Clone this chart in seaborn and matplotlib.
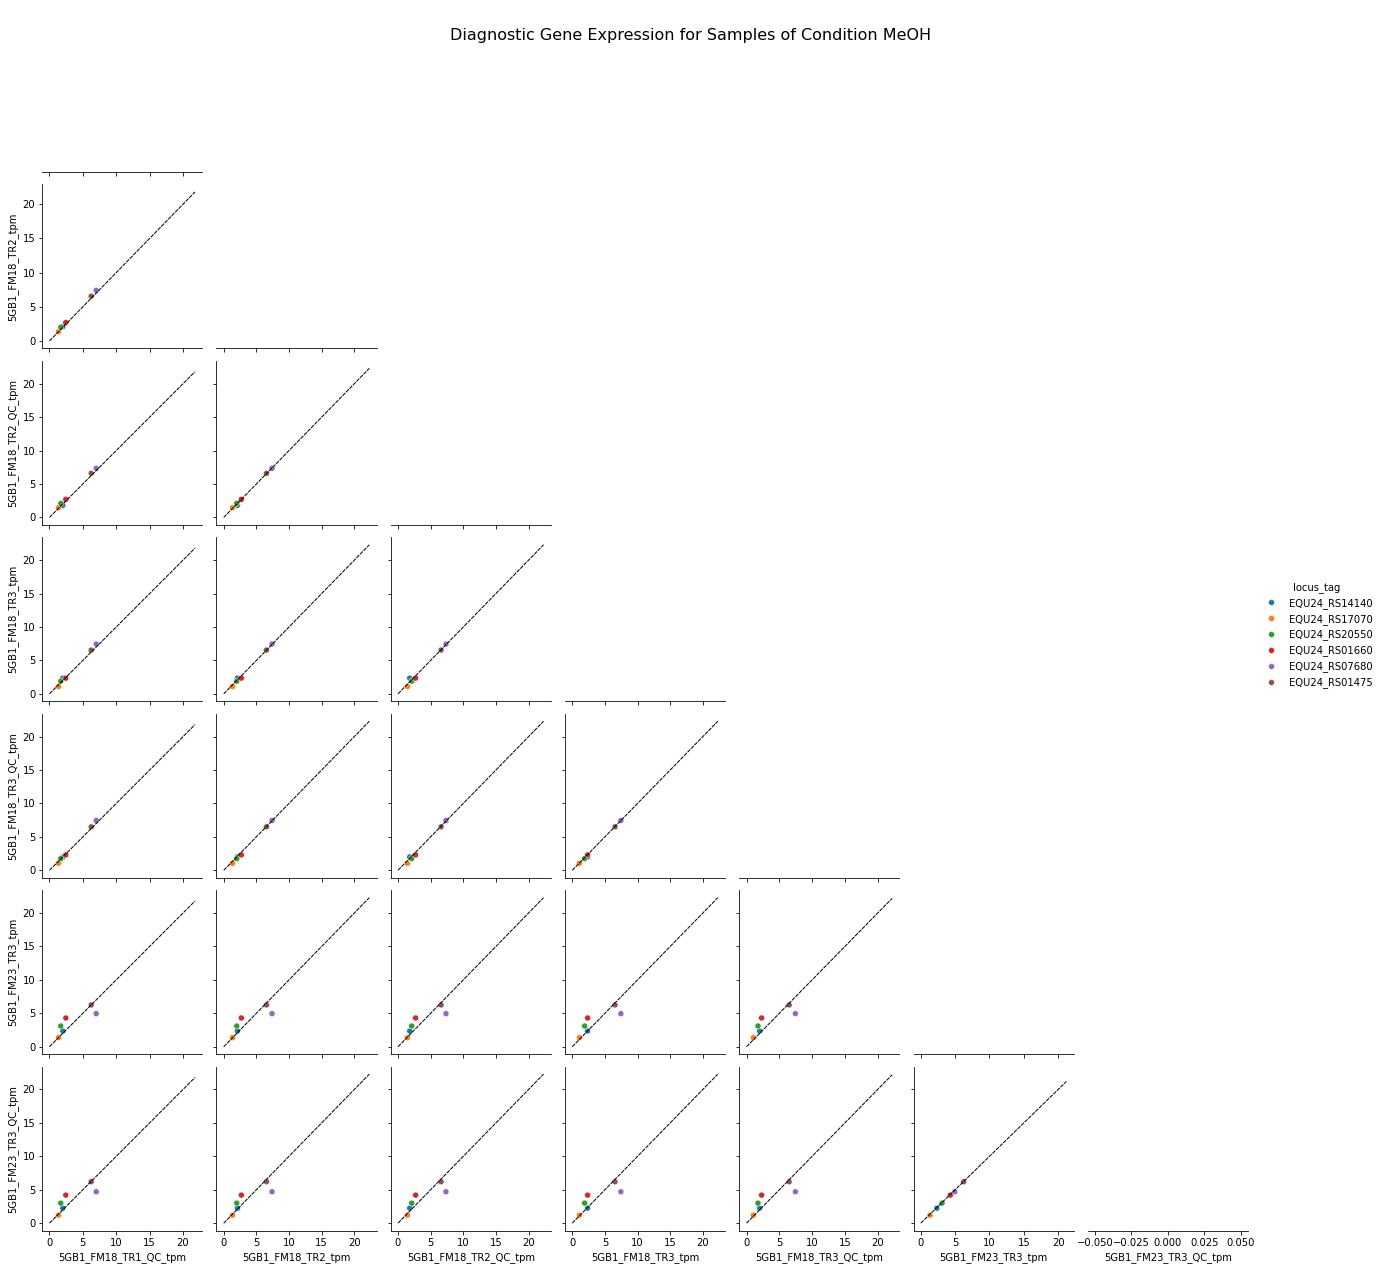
import pandas as pd
import numpy as np
import matplotlib
matplotlib.use("Agg")
import matplotlib.pyplot as plt
import seaborn as sns

# genes de diagnostico
genes = ["EQU24_RS14140", "EQU24_RS17070", "EQU24_RS20550",
         "EQU24_RS01660", "EQU24_RS07680", "EQU24_RS01475"]

samples = ["5GB1_FM18_TR1_QC_tpm", "5GB1_FM18_TR2_tpm", "5GB1_FM18_TR2_QC_tpm",
           "5GB1_FM18_TR3_tpm", "5GB1_FM18_TR3_QC_tpm", "5GB1_FM23_TR3_tpm",
           "5GB1_FM23_TR3_QC_tpm"]

# tpm por muestra (mismo orden que genes)
fm18_tr1_qc = [2.0, 1.35, 1.7, 2.45, 7.0, 6.25]
fm18_tr2 = [2.1, 1.35, 2.0, 2.7, 7.4, 6.55]
fm18_tr2_qc = [1.8, 1.45, 2.1, 2.7, 7.35, 6.6]
fm18_tr3 = [2.35, 1.1, 1.9, 2.35, 7.45, 6.55]
fm18_tr3_qc = [2.0, 1.05, 1.75, 2.3, 7.45, 6.5]
fm23_tr3 = [2.35, 1.35, 3.1, 4.3, 4.95, 6.25]
fm23_tr3_qc = [2.25, 1.2, 3.0, 4.2, 4.7, 6.2]

# maximo de cada muestra (todas las genes) para la linea y=x
sample_max = [21.8, 22.3, 22.3, 22.3, 22.2, 21.2, 0.0]

df = pd.DataFrame({
    samples[0]: fm18_tr1_qc,
    samples[1]: fm18_tr2,
    samples[2]: fm18_tr2_qc,
    samples[3]: fm18_tr3,
    samples[4]: fm18_tr3_qc,
    samples[5]: fm23_tr3,
    samples[6]: fm23_tr3_qc,
    "locus_tag": genes,
})

g = sns.PairGrid(df, hue="locus_tag", hue_order=genes, corner=True, height=2.3)
g.map_lower(sns.scatterplot)


def nada(x, **kws):
    pass  # diagonal vacia


g.map_diag(nada)

# linea y = x en cada panel
for i in range(len(samples)):
    for j in range(i):
        ax = g.axes[i, j]
        m = sample_max[j]
        ax.plot([0, m], [0, m], color="black", linestyle=(0, (4, 1)), linewidth=1.0)

g.axes[6, 6].set_xlim(-0.055, 0.055)

g.add_legend()
g.figure.set_size_inches(1382 / 72, 1270 / 72)
g.figure.subplots_adjust(left=0.0305, right=0.903, bottom=0.031, top=0.9937,
                         wspace=0.088, hspace=0.076)
sns.move_legend(g, "center right", bbox_to_anchor=(1.0, 0.5))

g.figure.suptitle("Diagnostic Gene Expression for Samples of Condition MeOH",
                  y=0.978, fontsize=16)

g.figure.savefig("out.png", dpi=72)
